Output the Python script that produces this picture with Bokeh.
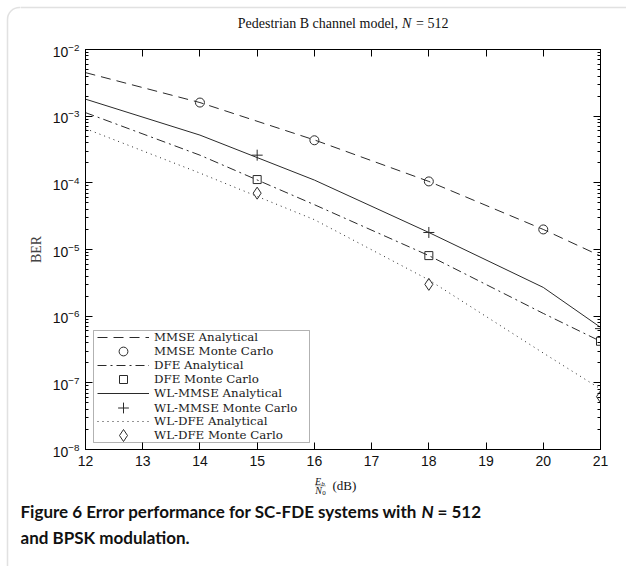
from bokeh.plotting import figure
from bokeh.layouts import row, column
from bokeh.models import (Legend, LegendItem, LogAxis, LinearAxis, FixedTicker,
                          Label, BoxAnnotation, CustomJSTickFormatter, Range1d)
from bokeh.embed import file_html
from bokeh.resources import INLINE

# Eb/N0 grid (dB) of the analytical curves
snr_analytic = [12, 14, 16, 18, 20, 21]
mmse_analytic = [4.5e-3, 1.6e-3, 4.4e-4, 1.05e-4, 2.0e-5, 8.0e-6]
dfe_analytic = [1.13e-3, 2.6e-4, 4.7e-5, 8.1e-6, 1.1e-6, 4.2e-7]
wl_mmse_analytic = [1.8e-3, 5.2e-4, 1.1e-4, 1.8e-5, 2.7e-6, 6.8e-7]
wl_dfe_analytic = [6.5e-4, 1.4e-4, 2.8e-5, 3.5e-6, 2.8e-7, 8.1e-8]

# Monte Carlo simulation points
mmse_mc_snr = [14, 16, 18, 20]
mmse_mc = [1.6e-3, 4.35e-4, 1.05e-4, 2.0e-5]
mc_snr = [15, 18, 21]
dfe_mc = [1.12e-4, 8.1e-6, 4.2e-7]
wl_mmse_mc = [2.6e-4, 1.8e-5, 6.5e-7]
wl_dfe_mc = [7.0e-5, 3.0e-6, 6.2e-8]

x_ticks = [12, 13, 14, 15, 16, 17, 18, 19, 20, 21]
y_ticks = [1e-8, 1e-7, 1e-6, 1e-5, 1e-4, 1e-3, 1e-2]
y_minor = [m * d for d in y_ticks[:-1] for m in range(2, 10)]

legend_labels = ["MMSE Analytical", "MMSE Monte Carlo", "DFE Analytical",
                 "DFE Monte Carlo", "WL-MMSE Analytical", "WL-MMSE Monte Carlo",
                 "WL-DFE Analytical", "WL-DFE Monte Carlo"]

INK = "#2a2a2a"
SERIF = "Liberation Serif"
LEGEND_SERIF = "DejaVu Serif"
SANS = "Liberation Sans"
CAP = "Lato"
FRAME_GREY = "#9a9a9a"


def blank_canvas(w, h):
    f = figure(width=w, height=h, x_range=Range1d(0, 1), y_range=Range1d(0, 1),
               x_axis_location=None, y_axis_location=None,
               output_backend="svg", toolbar_location=None, min_border=0)
    f.grid.visible = False
    f.outline_line_color = None
    return f


def lab(fig, x, y, text, font=SERIF, size="14px", style="normal", align="left",
        color="#111111"):
    fig.add_layout(Label(x=x, y=y, x_units="screen", y_units="screen", text=text,
                         text_font=font, text_font_size=size, text_font_style=style,
                         text_align=align, text_baseline="middle", text_color=color,
                         level="overlay"))


def screen_box(fig, left, right, bottom, top, **style):
    fig.add_layout(BoxAnnotation(left=left, right=right, bottom=bottom, top=top,
                                 left_units="screen", right_units="screen",
                                 bottom_units="screen", top_units="screen", **style))


def rounded_frame(fig, left, top):
    screen_box(fig, left, left + 2000, top - 2000, top, fill_color=None,
               line_color=FRAME_GREY, line_width=1.5, border_radius=12)


# ---- left strip: left edge of the rounded panel frame
strip = blank_canvas(20, 566)
rounded_frame(strip, 7, 559)

# ---- header: plot title
head = blank_canvas(606, 43)
rounded_frame(head, -13, 36)
TY = 20
lab(head, 377.5, TY, "Pedestrian B channel model,", align="right")
lab(head, 381.5, TY, "N", style="italic")
lab(head, 395.5, TY, "= 512")

# ---- main BER plot
p = figure(width=606, height=430, x_range=(12, 21), y_range=(1e-8, 1e-2),
           y_axis_type="log", output_backend="svg", toolbar_location=None,
           min_border_left=65, min_border_right=26, min_border_top=6,
           min_border_bottom=24)
p.grid.visible = False
p.outline_line_color = "black"
p.outline_line_width = 1

xt = FixedTicker(ticks=x_ticks, minor_ticks=[])
yt = FixedTicker(ticks=y_ticks, minor_ticks=y_minor)
bottom_axis = p.below[0]
left_axis = p.left[0]
bottom_axis.ticker = xt
left_axis.ticker = yt

blank = CustomJSTickFormatter(code="return ''")
top_axis = LinearAxis(ticker=xt, formatter=blank)
right_axis = LogAxis(ticker=yt, formatter=blank)
p.add_layout(top_axis, "above")
p.add_layout(right_axis, "right")

for ax in (bottom_axis, left_axis, top_axis, right_axis):
    ax.axis_line_color = "black"
    ax.major_tick_in = 7
    ax.major_tick_out = 0
    ax.minor_tick_in = 3
    ax.minor_tick_out = 0
    ax.major_tick_line_color = "black"
    ax.minor_tick_line_color = "black"
    ax.major_label_text_font = SANS
    ax.major_label_text_color = "#111111"

for ax in (top_axis, right_axis):
    ax.major_label_standoff = 0
    ax.major_label_text_font_size = "0px"

for ax in (bottom_axis, left_axis):
    ax.major_label_text_font_size = "14px"
    ax.major_label_standoff = 6

left_axis.axis_label = "BER"
left_axis.axis_label_text_font = SERIF
left_axis.axis_label_text_font_style = "normal"
left_axis.axis_label_text_font_size = "14px"
left_axis.axis_label_standoff = 6

# analytical curves
r_mmse = p.line(snr_analytic, mmse_analytic, line_color=INK, line_width=1, line_dash="10 6")
r_dfe = p.line(snr_analytic, dfe_analytic, line_color=INK, line_width=1, line_dash="9 4 2 4")
r_wlm = p.line(snr_analytic, wl_mmse_analytic, line_color=INK, line_width=1)
r_wld = p.line(snr_analytic, wl_dfe_analytic, line_color=INK, line_width=1, line_dash="1 4")

# simulation markers
m_mmse = p.scatter(mmse_mc_snr, mmse_mc, marker="circle", size=9, fill_color=None, line_color=INK)
m_dfe = p.scatter(mc_snr, dfe_mc, marker="square", size=8, fill_color=None, line_color=INK)
m_wlm = p.scatter(mc_snr, wl_mmse_mc, marker="cross", size=11, line_color=INK)
m_wld = p.scatter(mc_snr, wl_dfe_mc, marker="diamond", size=12, fill_color=None, line_color=INK)

# legend: one compact row per entry, stacked at a 14 px pitch inside a framed box
renderers = [r_mmse, m_mmse, r_dfe, m_dfe, r_wlm, m_wlm, r_wld, m_wld]
# row heights chosen so the legend markers come out at the plot's marker sizes
row_heights = [20, 22, 20, 20, 20, 27, 20, 30]
BOX_L, BOX_R, BOX_B, BOX_T = 8, 224, 7, 119
ROW_PITCH = 14
for i, (text, rend, h) in enumerate(zip(legend_labels, renderers, row_heights)):
    centre = BOX_T - ROW_PITCH / 2 - ROW_PITCH * i
    lg = Legend(items=[LegendItem(label=text, renderers=[rend])],
                location=(BOX_L + 4, round(centre - h / 2)))
    lg.label_text_font = LEGEND_SERIF
    lg.label_text_font_size = "11.8px"
    lg.label_text_color = "#1a1a1a"
    lg.label_height = h
    lg.glyph_height = h
    lg.glyph_width = 52
    lg.label_standoff = 5
    lg.padding = 0
    lg.margin = 0
    lg.spacing = 0
    lg.border_line_color = None
    lg.background_fill_alpha = 0
    p.add_layout(lg)

screen_box(p, BOX_L, BOX_R, BOX_B, BOX_T, fill_color=None, line_color="black",
           line_width=1)

# ---- footer: x-axis quantity and figure caption
foot = blank_canvas(606, 93)
lab(foot, 297.5, 85.5, "E", size="10px", style="italic", align="center")
lab(foot, 302.5, 83, "b", size="7px", style="italic", align="center")
screen_box(foot, 294.5, 305.5, 80.3, 81.1, fill_color="#111111", line_color=None)
lab(foot, 298, 76, "N", size="10px", style="italic", align="center")
lab(foot, 303.5, 73.5, "0", size="7px", align="center")
lab(foot, 312, 81, "(dB)", size="13px")

CAP_SIZE = "17px"
lab(foot, 0, 55, "Figure 6 Error performance for SC-FDE systems with", font=CAP,
    size=CAP_SIZE, style="bold")
lab(foot, 401, 55, "N", font=CAP, size=CAP_SIZE, style="bold italic")
lab(foot, 417, 55, "= 512", font=CAP, size=CAP_SIZE, style="bold")
lab(foot, 0, 29, "and BPSK modulation.", font=CAP, size=CAP_SIZE, style="bold")

layout = row(strip, column(head, row(p), foot, spacing=0), spacing=0)

open("out.html", "w").write(file_html(layout, INLINE))
